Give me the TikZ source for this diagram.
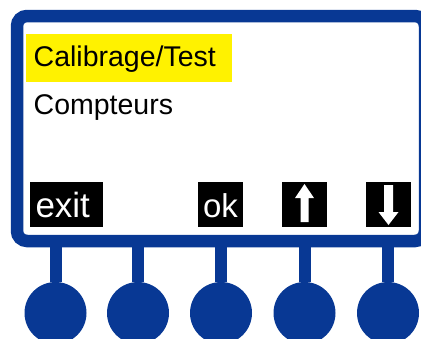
\documentclass[tikz,border=0pt]{standalone}
\usepackage{fontspec}
\setmainfont{Liberation Sans}
\usetikzlibrary{calc}
\definecolor{panelblue}{RGB}{8,56,148}

\begin{document}
\begin{tikzpicture}[x=1pt, y=-1pt,
	frame/.style={draw=panelblue, line width=12.5pt, rounded corners=10pt, inner sep=0pt, outer sep=6.25pt},
	menuitem/.style={inner sep=0pt, anchor=base west, font=\fontsize{28.5}{28.5}\selectfont},
	keybox/.style={fill=black, text=white, inner sep=0pt, text height=35pt, text depth=10pt, font=\fontsize{33}{33}\selectfont},
	button/.style={circle, fill=panelblue, minimum size=62pt, inner sep=0pt},
	stem/.style={panelblue, line width=12pt}]

\clip (0,0) rectangle (421,338);

% Display
\node[frame, minimum width=408pt, minimum height=225pt] (frame) at (221,128.5) {};

% Menu entries
\node[menuitem, fill=yellow, text height=32pt, text depth=16pt, inner xsep=7.5pt, text width=191pt, anchor=base west] (calib) at (26,66) {Calibrage/Test};
\node[menuitem] (count) at (33.5,114) {Compteurs};

% Soft keys
\node[keybox, inner xsep=5.5pt, text width=62pt, align=left, font=\fontsize{35}{35}\selectfont] (kexit) at (66.5,204.5) {exit};
\node[keybox, minimum width=45pt] (kok) at (220.5,204.5) {ok};
\node[keybox, minimum width=45pt] (kup) at (304.5,204.5) {};
\node[keybox, minimum width=45pt] (kdown) at (388.5,204.5) {};
\fill[white, shift={(kup.center)}] (-4,17.5) -- (-4,-6.5) -- (-9.5,-6.5) -- (0,-20.5) -- (9.5,-6.5) -- (4,-6.5) -- (4,17.5) -- cycle;
\fill[white, shift={(kdown.center)}, yscale=-1] (-4.5,19.5) -- (-4.5,-7.5) -- (-10,-7.5) -- (0,-20.5) -- (10,-7.5) -- (4.5,-7.5) -- (4.5,19.5) -- cycle;

% Buttons
\foreach \i/\x in {1/55.5,2/138,3/221,4/304.5,5/388}
	\node[button] (b\i) at (\x,313) {};

% Stems from display to buttons
\foreach \i in {1,...,5}
	\draw[stem] (b\i.north) -- (b\i.north |- frame.south);
\end{tikzpicture}
\end{document}
